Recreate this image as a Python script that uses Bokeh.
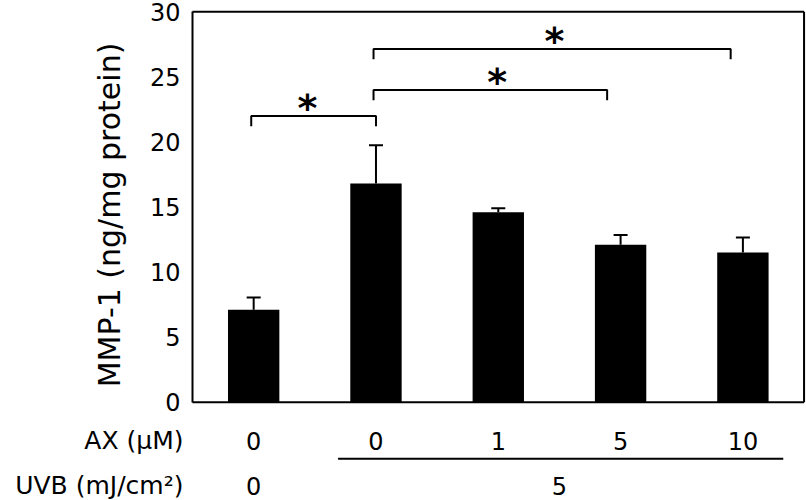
import numpy as np
from bokeh.plotting import figure
from bokeh.models import Range1d, FixedTicker, LinearAxis, Whisker, ColumnDataSource, TeeHead
from bokeh.core.properties import value
from bokeh.embed import file_html
from bokeh.resources import INLINE

# ---- data ----
ax_doses = ["0", "0", "1", "5", "10"]          # AX (uM) per bar
uvb_groups = ["0", "5"]                         # UVB (mJ/cm2) groups
uvb_members = [[0], [1, 2, 3, 4]]               # bars in each UVB group
mmp1 = [7.1, 16.8, 14.6, 12.1, 11.5]            # MMP-1 (ng/mg protein)
sem = [0.95, 2.95, 0.3, 0.75, 1.15]             # upper error
y_ticks = [0, 5, 10, 15, 20, 25, 30]
y_label = "MMP-1 (ng/mg protein)"
row_labels = ["AX (μM)", "UVB (mJ/cm²)"]
sig_marks = ["*", "*", "*"]
sig_left = [0.48, 1.48, 1.48]                   # bracket ends (x units of bars)
sig_right = [1.5, 3.39, 4.4]
sig_level = [22.0, 24.0, 27.15]
sig_star_x = [0.94, 2.49, 2.96]

FONT = value("DejaVu Sans")
n = len(mmp1)
bar_x = np.arange(n) + 0.5
XRIGHT = 5.0          # right edge of the plot box
YTOP = 30             # top edge of the plot box

p = figure(width=806, height=500, x_range=Range1d(-1.57, 5.02), y_range=Range1d(-7.55, 30.87),
           x_axis_location=None, y_axis_location=None, title_location=None,
           min_border=0, min_border_left=0, min_border_right=0, min_border_top=0, min_border_bottom=0,
           output_backend="svg", toolbar_location=None, tools="")
p.outline_line_color = None
p.background_fill_color = "white"
p.border_fill_color = "white"
p.grid.visible = False

yax = LinearAxis(fixed_location=0, bounds=(0, 30), ticker=FixedTicker(ticks=y_ticks, minor_ticks=[]))
yax.axis_line_width = 2
yax.axis_line_color = "black"
yax.major_tick_line_color = None
yax.minor_tick_line_color = None
yax.major_tick_out = 0
yax.major_tick_in = 0
yax.major_label_standoff = 12
yax.major_label_text_font = "DejaVu Sans"
yax.major_label_text_font_size = "24px"
yax.major_label_text_color = "black"
p.add_layout(yax, "left")

# plot box (top, right, bottom)
p.segment(x0=[0, XRIGHT, 0], y0=[YTOP, 0, 0], x1=[XRIGHT, XRIGHT, XRIGHT], y1=[YTOP, YTOP, 0],
          line_color="black", line_width=2)

# bars with upper error bars
src = ColumnDataSource(dict(x=bar_x, top=mmp1, upper=np.array(mmp1) + np.array(sem)))
p.vbar(x="x", top="top", bottom=0, width=0.42, source=src, fill_color="black", line_color=None)
p.add_layout(Whisker(base="x", lower="top", upper="upper", source=src, dimension="height",
                     line_color="black", line_width=2,
                     upper_head=TeeHead(size=14, line_width=2, line_color="black"),
                     lower_head=None))

# significance brackets
drop = 0.8
xs, ys = [], []
for l, r, h in zip(sig_left, sig_right, sig_level):
    xs.append([l, l, r, r])
    ys.append([h - drop, h, h, h - drop])
p.multi_line(xs=xs, ys=ys, line_color="black", line_width=2)
p.text(x=sig_star_x, y=[h + 0.63 for h in sig_level], text=sig_marks,
       text_font=FONT, text_font_style="bold", text_font_size="38px",
       text_align="center", text_baseline="middle", text_color="black")

# treatment table under the bars
ROW_AX = -2.94
ROW_LINE = -4.35
ROW_UVB = -6.4
p.text(x=bar_x, y=[ROW_AX] * n, text=ax_doses, text_font=FONT, text_font_size="24px",
       text_align="center", text_baseline="middle", text_color="black")
uvb_x = [float(np.mean(bar_x[m])) for m in uvb_members]
p.text(x=uvb_x, y=[ROW_UVB] * len(uvb_groups), text=uvb_groups, text_font=FONT,
       text_font_size="24px", text_align="center", text_baseline="middle", text_color="black")
grp = uvb_members[1]
p.segment(x0=[bar_x[grp[0]] - 0.31], x1=[bar_x[grp[-1]] + 0.33], y0=[ROW_LINE], y1=[ROW_LINE],
          line_color="black", line_width=2)

# row headings and y-axis title (left of the axis)
p.text(x=[-0.074, -0.074], y=[ROW_AX, ROW_UVB], text=row_labels, text_font=FONT,
       text_font_size="25px", text_align="right", text_baseline="middle", text_color="black")
p.text(x=[-0.68], y=[14.39], text=[y_label], angle=np.pi / 2, text_font=FONT,
       text_font_size="30px", text_align="center", text_baseline="middle", text_color="black")

open("out.html", "w").write(file_html(p, INLINE))
